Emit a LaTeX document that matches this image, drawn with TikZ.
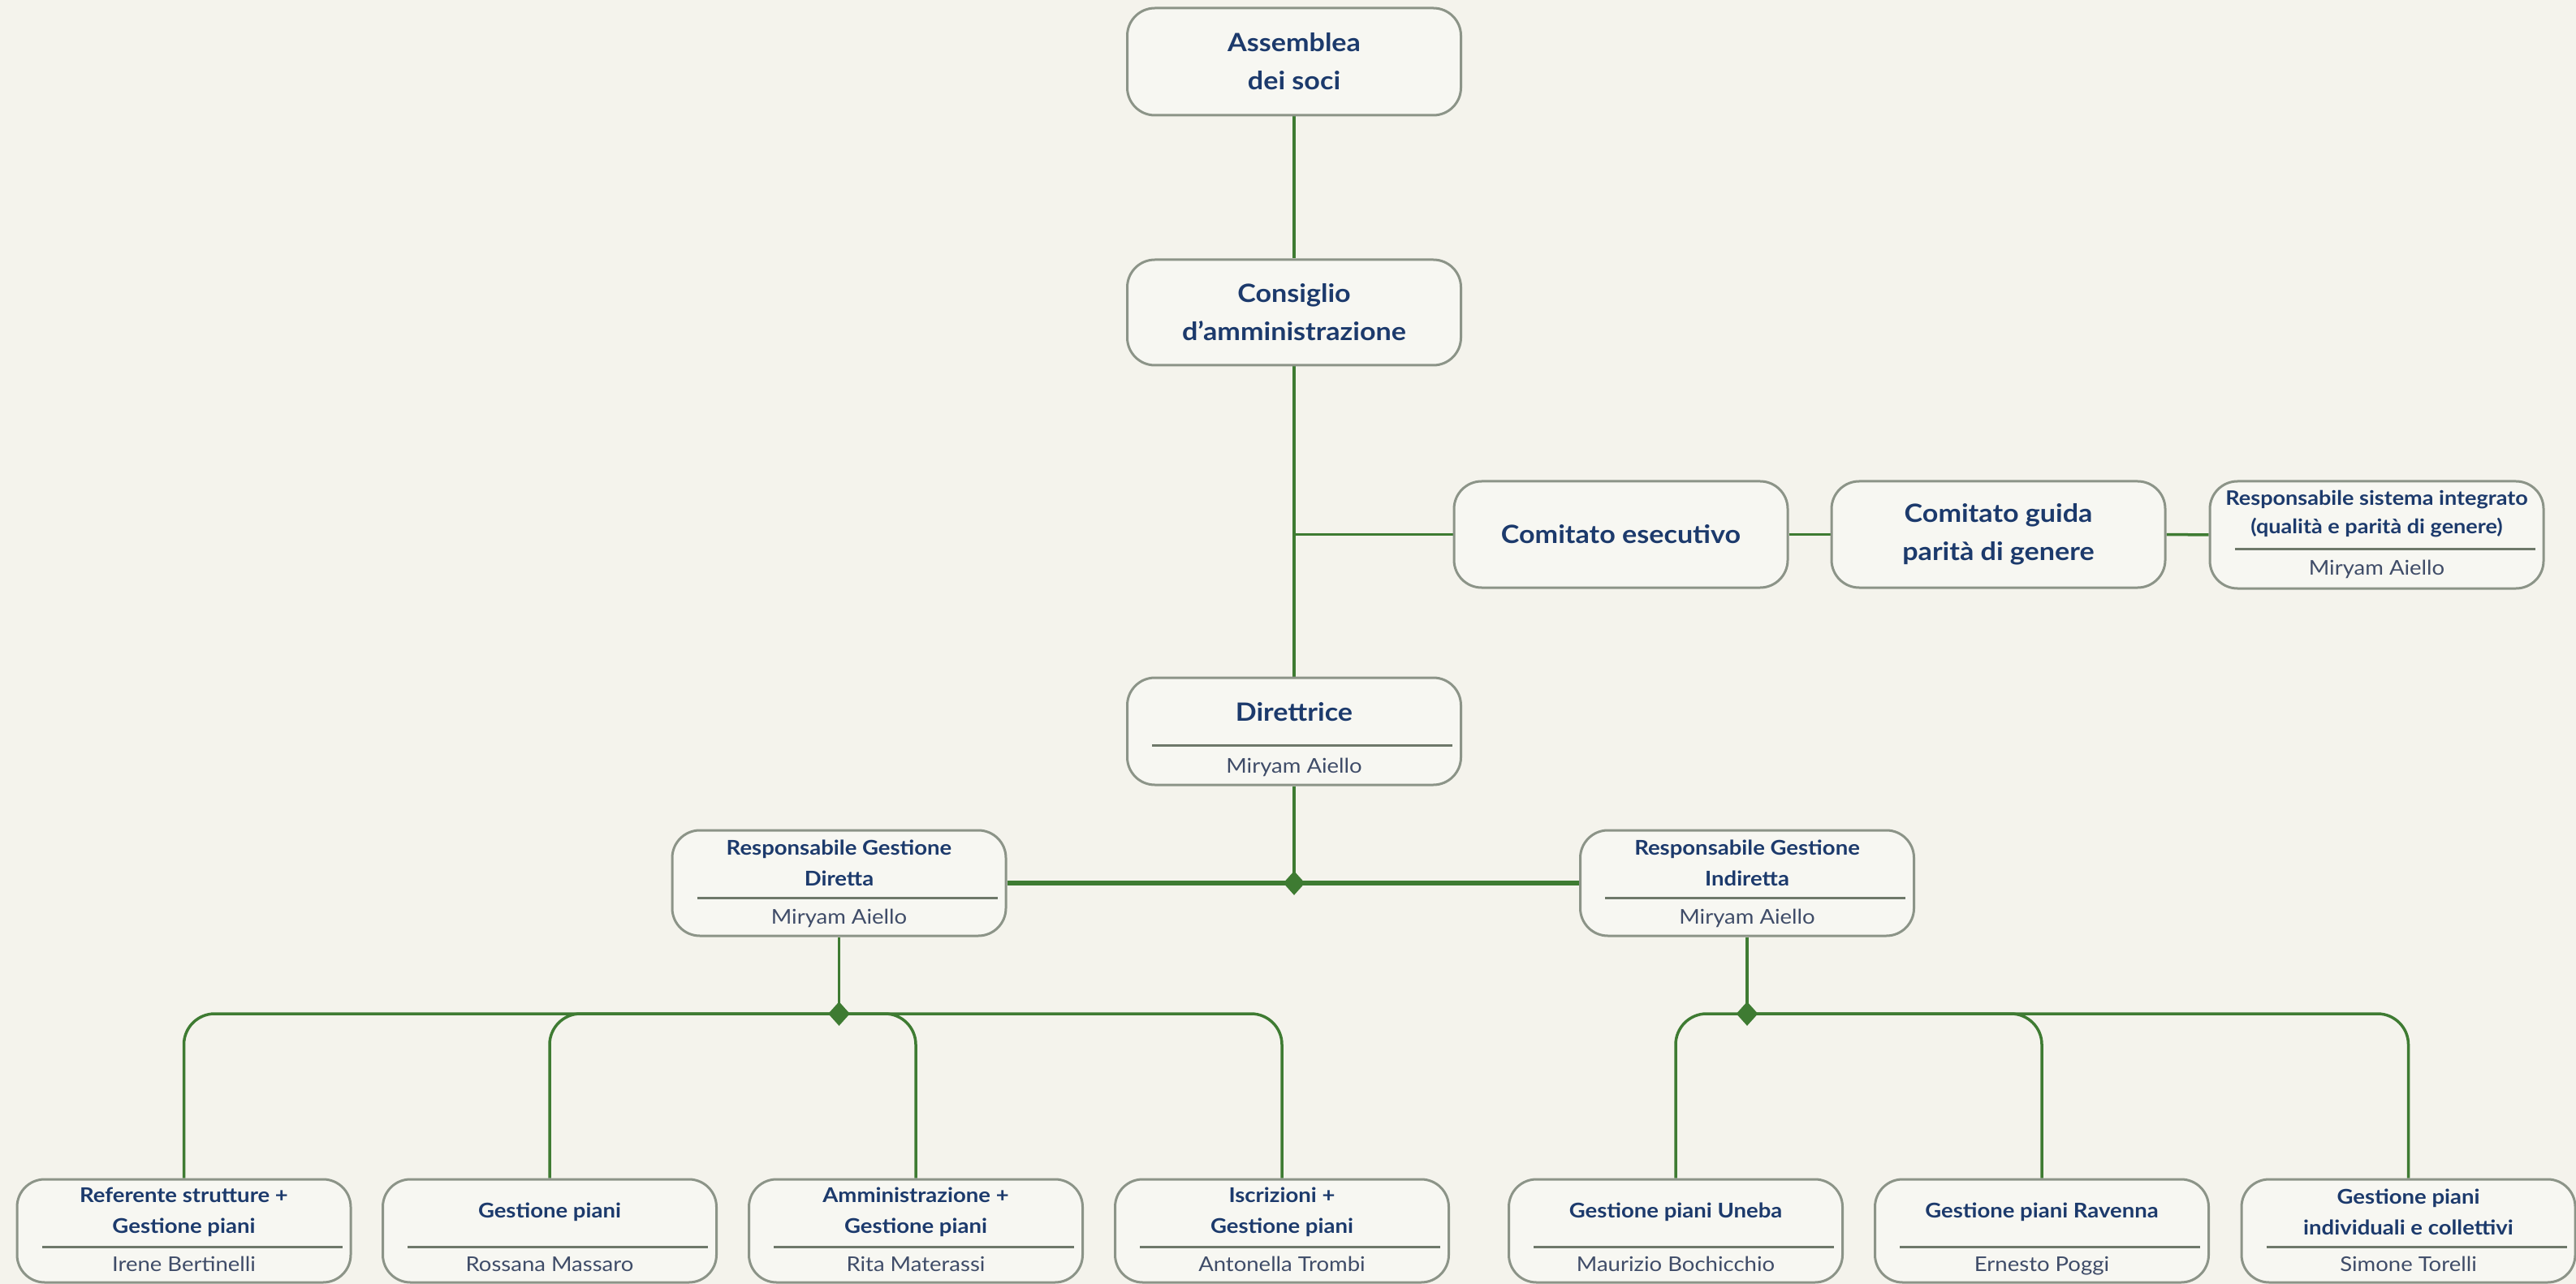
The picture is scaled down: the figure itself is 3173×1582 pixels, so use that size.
\documentclass[tikz,border=0pt]{standalone}
\usepackage{fontspec}
\setmainfont[FakeStretch=1.1]{Lato}
\usetikzlibrary{shapes.geometric}
\definecolor{bgc}{HTML}{F4F3EC}
\definecolor{boxfill}{HTML}{F7F7F2}
\definecolor{boxline}{HTML}{8C9488}
\definecolor{navy}{HTML}{1C3A6C}
\definecolor{namec}{HTML}{3F4C68}
\definecolor{linkc}{HTML}{3E7B32}
\definecolor{sepc}{HTML}{6E786A}
\pgfdeclarelayer{canvas}
\pgfdeclarelayer{links}
\pgfsetlayers{canvas,links,main}
\tikzset{
  box/.style={draw=boxline, line width=1.5pt, fill=boxfill, rounded corners=17pt,
              minimum width=205.5pt, inner sep=0pt},
  bigtitle/.style={font=\bfseries\fontsize{15.5}{23.5}\selectfont, text=navy, align=center},
  smalltitle/.style={font=\bfseries\fontsize{12.5}{19}\selectfont, text=navy, align=center, inner sep=0pt},
  rsititle/.style={font=\bfseries\fontsize{12.3}{17.5}\selectfont, text=navy, align=center, inner sep=0pt},
  personname/.style={font=\fontsize{12.5}{15}\selectfont, text=namec, inner sep=0pt,
                     text height=9pt, text depth=2.5pt},
  link/.style={draw=linkc, line width=1.75pt},
  sepline/.style={draw=sepc, line width=1.25pt},
  knot/.style={diamond, fill=linkc, inner sep=0pt, minimum width=13.5pt, minimum height=15pt},
}
\begin{document}
\begin{tikzpicture}[x=0.5pt, y=-0.5pt]
\begin{pgfonlayer}{canvas}
  \fill[bgc] (0,0) rectangle (3173,1582);
\end{pgfonlayer}
\useasboundingbox (0,0) rectangle (3173,1582);

% top level
\node[box, minimum height=66pt, bigtitle] (A) at (1594,76) {Assemblea\\dei soci};
\node[box, minimum height=65pt, bigtitle] (C) at (1594,385) {Consiglio\\d’amministrazione};
\node[box, minimum height=65.5pt, bigtitle] (CE) at (1996.5,658.5) {Comitato esecutivo};
\node[box, minimum height=65.5pt, bigtitle] (CG) at (2461.5,658.5) {Comitato guida\\parità di genere};
\node[box, minimum height=66pt] (RSI) at (2927.5,659) {};
\node[rsititle] (RSIt) at ([yshift=-21pt]RSI.north) {Responsabile sistema integrato\\(qualità e parità di genere)};
\node[personname] (RSIn) at ([yshift=-55pt]RSI.north) {Miryam Aiello};

% Direttrice
\node[box, minimum height=66pt] (D) at (1594,901) {};
\node[bigtitle, inner sep=0pt] (Dt) at ([yshift=-22pt]D.north) {Direttrice};
\node[personname] (Dn) at ([yshift=-56pt]D.north) {Miryam Aiello};

% responsabili
\node[box, minimum height=65pt] (RD) at (1033.5,1088) {};
\node[smalltitle] (RDt) at ([yshift=-21pt]RD.north) {Responsabile Gestione\\Diretta};
\node[personname] (RDn) at ([yshift=-55pt]RD.north) {Miryam Aiello};
\node[box, minimum height=65pt] (RI) at (2152,1088) {};
\node[smalltitle] (RIt) at ([yshift=-21pt]RI.north) {Responsabile Gestione\\Indiretta};
\node[personname] (RIn) at ([yshift=-55pt]RI.north) {Miryam Aiello};

% bottom row
\foreach \nm/\cx/\ttl/\per in {
  B1/226.5/{Referente strutture +\\Gestione piani}/{Irene Bertinelli},
  B2/677/{Gestione piani}/{Rossana Massaro},
  B3/1128/{Amministrazione +\\Gestione piani}/{Rita Materassi},
  B4/1579/{Iscrizioni +\\Gestione piani}/{Antonella Trombi},
  B5/2064/{Gestione piani Uneba}/{Maurizio Bochicchio},
  B6/2515/{Gestione piani Ravenna}/{Ernesto Poggi},
  B7/2966.5/{Gestione piani\\individuali e collettivi}/{Simone Torelli}}{
  \node[box, minimum height=63.5pt] (\nm) at (\cx,1516.5) {};
  \node[smalltitle] (\nm t) at ([yshift=-21pt]\nm.north) {\ttl};
  \node[personname] (\nm n) at ([yshift=-54pt]\nm.north) {\per};
}

% separators
\foreach \b in {RSI,D,RD,RI,B1,B2,B3,B4,B5,B6,B7}{
  \draw[sepline] ([xshift=16pt,yshift=-42.5pt]\b.north west) -- ([xshift=-6pt,yshift=-42.5pt]\b.north east);
}

% junction knots
\node[knot] (K1) at (1594,1088) {};
\node[knot] (K2) at (1033.5,1249) {};
\node[knot] (K3) at (2152,1249) {};

\begin{pgfonlayer}{links}
  \draw[link] (A) -- (C);
  \draw[link] (C) -- (D);
  \draw[link] (C.south |- CE.west) -- (CE.west);
  \draw[link] (CE) -- (CG);
  \draw[link] (CG) -- (RSI);
  \draw[link] (D) -- (K1.center);
  \draw[link, line width=3pt] (RD) -- (RI);
  \draw[link] (RD) -- (K2.center);
  \draw[link] (RI) -- (K3.center);
  \foreach \b in {B1,B2,B3,B4}{
    \draw[link, rounded corners=19pt] (K2.center) -| (\b.north);
  }
  \foreach \b in {B5,B6,B7}{
    \draw[link, rounded corners=19pt] (K3.center) -| (\b.north);
  }
\end{pgfonlayer}
\end{tikzpicture}
\end{document}
